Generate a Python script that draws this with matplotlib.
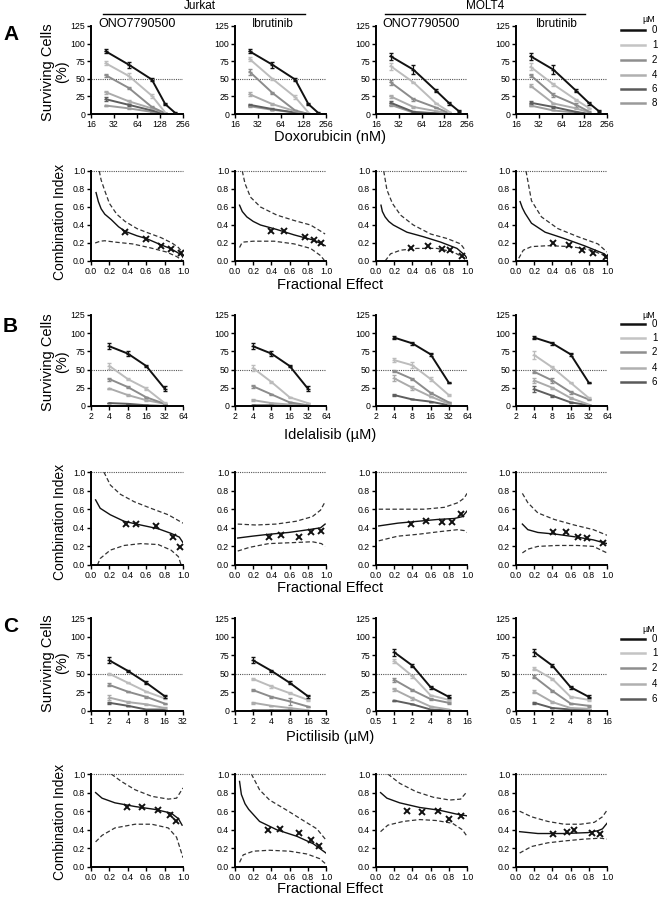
import matplotlib
matplotlib.use("Agg")
import matplotlib.pyplot as plt
from matplotlib.lines import Line2D

plt.rcParams['font.family'] = ['Liberation Sans', 'DejaVu Sans']

# ---------------- data ----------------
legend_A = ['0', '1', '2', '4', '6', '8']
legend_BC = ['0', '1', '2', '4', '6']
series_colors = ['#111111', '#bcbcbc', '#8c8c8c', '#ababab', '#5e5e5e', '#9c9c9c']
legend_colors = ['#111111', '#c4c4c4', '#8e8e8e', '#b0b0b0', '#5a5a5a', '#9a9a9a']

dox_nM = [25, 50, 100, 150, 200]
idel_uM = [4, 8, 16, 32]
pict_jurkat_uM = [2, 4, 8, 16]
pict_molt4_uM = [1, 2, 4, 8]

# Panel A surviving cells (%) per column: Jurkat ONO, Jurkat Ibr, MOLT4 ONO, MOLT4 Ibr
A_jurkat_ono = [[89, 70, 49, 14, 2], [72, 54, 26, 2], [55, 37, 10, 1], [31, 18, 8, 1], [21, 13, 5, 0], [12, 8, 3, 0]]
A_jurkat_ono_err = [[3, 4, 2, 1, 1], [3, 4, 3, 0], [2, 1, 1, 0], [2, 2, 1, 0], [3, 1, 1, 0], [1, 1, 0, 0]]
A_jurkat_ibr = [[89, 70, 49, 14, 2], [78, 50, 24, 2], [60, 30, 5, 0], [28, 14, 4, 0], [13, 7, 2, 0], [11, 6, 2, 0]]
A_jurkat_ibr_err = [[3, 4, 2, 1, 1], [3, 1, 3, 0], [4, 1, 1, 0], [3, 1, 0, 0], [1, 1, 0, 0], [1, 0, 0, 0]]
A_molt4_ono = [[82, 63, 33, 15, 4], [68, 45, 15, 3], [45, 21, 9, 1], [25, 10, 4, 1], [16, 3, 1, 0], [13, 2, 1, 0]]
A_molt4_ono_err = [[5, 6, 2, 2, 1], [5, 1, 1, 0], [4, 2, 1, 0], [2, 1, 0, 0], [3, 1, 0, 0], [2, 0, 0, 0]]
A_molt4_ibr = [[82, 63, 33, 15, 4], [67, 42, 20, 8], [55, 27, 13, 3], [40, 15, 8, 2], [16, 10, 3, 0], [12, 5, 2, 0]]
A_molt4_ibr_err = [[5, 6, 2, 2, 1], [5, 2, 1, 1], [2, 3, 3, 1], [2, 1, 1, 0], [2, 1, 0, 0], [1, 0, 0, 0]]

# Panel B
B_jurkat_ono = [[82, 72, 55, 24], [55, 37, 24, 4], [37, 26, 12, 3], [24, 15, 8, 3], [4, 3, 1, 0]]
B_jurkat_ono_err = [[4, 3, 2, 3], [4, 1, 2, 1], [2, 1, 1, 0], [1, 1, 1, 0], [0, 0, 0, 0]]
B_jurkat_ibr = [[82, 72, 55, 24], [52, 33, 12, 4], [27, 16, 5, 1], [8, 4, 2, 1], [1, 1, 0, 0]]
B_jurkat_ibr_err = [[4, 3, 2, 3], [4, 1, 1, 0], [2, 1, 1, 0], [1, 0, 0, 0], [0, 0, 0, 0]]
B_molt4_ono = [[94, 86, 71, 32], [63, 56, 37, 15], [48, 37, 18, 5], [38, 25, 13, 3], [15, 9, 6, 1]]
B_molt4_ono_err = [[2, 2, 2, 1], [3, 4, 3, 1], [1, 1, 1, 1], [4, 3, 1, 1], [1, 0, 0, 0]]
B_molt4_ibr = [[94, 86, 71, 32], [70, 53, 32, 11], [47, 35, 19, 9], [35, 25, 11, 2], [23, 14, 5, 1]]
B_molt4_ibr_err = [[2, 2, 2, 1], [5, 2, 1, 1], [2, 3, 2, 1], [3, 1, 1, 0], [4, 1, 1, 0]]

# Panel C
C_jurkat_ono = [[68, 54, 38, 20], [50, 38, 26, 17], [35, 26, 19, 10], [18, 12, 9, 4], [11, 7, 2, 2]]
C_jurkat_ono_err = [[4, 1, 2, 2], [1, 1, 1, 1], [2, 1, 1, 1], [3, 1, 1, 1], [1, 0, 0, 0]]
C_jurkat_ibr = [[68, 54, 38, 20], [43, 33, 24, 15], [28, 19, 13, 6], [11, 7, 4, 1], [1, 1, 1, 0]]
C_jurkat_ibr_err = [[4, 1, 2, 2], [2, 2, 1, 1], [1, 1, 5, 1], [1, 0, 0, 0], [0, 0, 0, 0]]
C_molt4_ono = [[79, 61, 32, 19], [67, 47, 21, 15], [42, 28, 16, 11], [29, 17, 6, 2], [14, 9, 2, 1]]
C_molt4_ono_err = [[5, 2, 2, 2], [3, 2, 1, 1], [3, 1, 1, 1], [2, 2, 1, 0], [1, 0, 0, 0]]
C_molt4_ibr = [[79, 61, 32, 19], [57, 43, 19, 15], [46, 27, 10, 7], [26, 12, 4, 3], [11, 4, 2, 1]]
C_molt4_ibr_err = [[5, 2, 2, 2], [2, 2, 1, 1], [2, 1, 1, 1], [2, 1, 0, 0], [1, 0, 0, 0]]

# Combination index: markers (fraction affected, CI) per column
ciA_fa = [[0.37, 0.60, 0.76, 0.87, 0.98], [0.40, 0.54, 0.77, 0.87, 0.95], [0.39, 0.57, 0.72, 0.81, 0.94], [0.41, 0.58, 0.73, 0.85, 0.99]]
ciA_ci = [[0.32, 0.24, 0.17, 0.13, 0.09], [0.33, 0.33, 0.27, 0.23, 0.20], [0.15, 0.17, 0.13, 0.12, 0.06], [0.20, 0.18, 0.12, 0.09, 0.05]]
ciB_fa = [[0.38, 0.49, 0.71, 0.89, 0.97], [0.37, 0.50, 0.70, 0.83, 0.95], [0.39, 0.55, 0.72, 0.83, 0.93], [0.41, 0.55, 0.68, 0.78, 0.96]]
ciB_ci = [[0.44, 0.44, 0.42, 0.30, 0.19], [0.30, 0.32, 0.30, 0.35, 0.37], [0.44, 0.47, 0.46, 0.46, 0.55], [0.35, 0.36, 0.30, 0.29, 0.24]]
ciC_fa = [[0.39, 0.55, 0.73, 0.86, 0.92], [0.36, 0.49, 0.70, 0.84, 0.92], [0.34, 0.50, 0.68, 0.80, 0.93], [0.41, 0.56, 0.64, 0.83, 0.92]]
ciC_ci = [[0.65, 0.65, 0.61, 0.56, 0.49], [0.40, 0.41, 0.37, 0.29, 0.23], [0.60, 0.59, 0.60, 0.52, 0.55], [0.36, 0.38, 0.40, 0.37, 0.36]]

# Fitted CI curves (fa, CI) and 95% CI bounds, per column
ciA_fit = [
    ([0.055, 0.08, 0.11, 0.15, 0.22, 0.3, 0.37, 0.5, 0.6, 0.76, 0.86, 0.93, 0.98, 1.0],
     [0.76, 0.66, 0.58, 0.52, 0.46, 0.38, 0.33, 0.28, 0.25, 0.18, 0.14, 0.10, 0.07, 0.04]),
    ([0.05, 0.08, 0.13, 0.2, 0.28, 0.46, 0.65, 0.87, 0.99],
     [0.62, 0.55, 0.49, 0.44, 0.40, 0.35, 0.29, 0.23, 0.17]),
    ([0.055, 0.07, 0.10, 0.14, 0.19, 0.34, 0.52, 0.71, 0.89, 0.98, 1.0],
     [0.62, 0.55, 0.49, 0.44, 0.40, 0.32, 0.27, 0.21, 0.14, 0.06, 0.03]),
    ([0.045, 0.07, 0.10, 0.17, 0.32, 0.53, 0.75, 0.97, 1.0],
     [0.66, 0.59, 0.53, 0.42, 0.32, 0.25, 0.17, 0.08, 0.05]),
]
ciA_upper = [
    ([0.09, 0.11, 0.15, 0.2, 0.28, 0.37, 0.5, 0.6, 0.76, 0.88, 0.95, 0.99],
     [1.0, 0.9, 0.78, 0.64, 0.52, 0.44, 0.36, 0.32, 0.26, 0.2, 0.15, 0.1]),
    ([0.08, 0.11, 0.17, 0.28, 0.46, 0.65, 0.83, 0.96, 0.99],
     [1.0, 0.86, 0.71, 0.60, 0.51, 0.45, 0.40, 0.32, 0.30]),
    ([0.085, 0.12, 0.18, 0.27, 0.41, 0.6, 0.78, 0.93, 0.98],
     [1.0, 0.79, 0.64, 0.51, 0.40, 0.30, 0.25, 0.19, 0.12]),
    ([0.11, 0.17, 0.28, 0.46, 0.68, 0.9, 1.0],
     [1.0, 0.67, 0.49, 0.36, 0.27, 0.19, 0.10]),
]
ciA_lower = [
    ([0.045, 0.1, 0.15, 0.26, 0.45, 0.63, 0.82, 0.93, 0.99],
     [0.2, 0.22, 0.225, 0.21, 0.19, 0.15, 0.1, 0.05, 0.01]),
    ([0.05, 0.07, 0.09, 0.2, 0.43, 0.65, 0.83, 0.94, 0.98],
     [0.15, 0.19, 0.21, 0.22, 0.22, 0.19, 0.14, 0.06, 0.01]),
    ([0.1, 0.16, 0.27, 0.45, 0.67, 0.85, 0.96, 0.99],
     [0.0, 0.08, 0.12, 0.14, 0.14, 0.10, 0.04, 0.01]),
    ([0.03, 0.08, 0.17, 0.35, 0.61, 0.83, 0.95, 1.0],
     [0.03, 0.12, 0.16, 0.17, 0.16, 0.12, 0.07, 0.04]),
]
ciB_fit = [
    ([0.05, 0.1, 0.21, 0.36, 0.54, 0.73, 0.87, 0.96, 1.0],
     [0.70, 0.61, 0.54, 0.47, 0.43, 0.39, 0.34, 0.30, 0.24]),
    ([0.03, 0.19, 0.37, 0.59, 0.81, 0.94, 0.99],
     [0.29, 0.31, 0.33, 0.35, 0.38, 0.40, 0.44]),
    ([0.03, 0.24, 0.46, 0.68, 0.86, 0.95, 1.0],
     [0.42, 0.45, 0.47, 0.49, 0.50, 0.52, 0.58]),
    ([0.07, 0.13, 0.24, 0.45, 0.67, 0.85, 1.0],
     [0.44, 0.38, 0.35, 0.33, 0.30, 0.27, 0.23]),
]
ciB_upper = [
    ([0.14, 0.21, 0.32, 0.47, 0.65, 0.84, 1.0],
     [1.0, 0.86, 0.76, 0.68, 0.61, 0.54, 0.45]),
    ([0.03, 0.23, 0.45, 0.67, 0.85, 0.94, 0.99],
     [0.44, 0.43, 0.44, 0.47, 0.52, 0.59, 0.68]),
    ([0.03, 0.24, 0.53, 0.75, 0.9, 0.97, 1.0],
     [0.60, 0.60, 0.60, 0.62, 0.67, 0.72, 0.77]),
    ([0.07, 0.13, 0.24, 0.42, 0.64, 0.85, 1.0],
     [0.77, 0.67, 0.56, 0.49, 0.43, 0.38, 0.32]),
]
ciB_lower = [
    ([0.07, 0.1, 0.21, 0.36, 0.54, 0.73, 0.87, 0.95, 0.98],
     [0.0, 0.07, 0.16, 0.21, 0.23, 0.22, 0.16, 0.09, 0.0]),
    ([0.03, 0.16, 0.37, 0.62, 0.85, 0.95, 0.99],
     [0.15, 0.19, 0.23, 0.24, 0.25, 0.23, 0.20]),
    ([0.03, 0.24, 0.46, 0.71, 0.9, 0.97, 1.0],
     [0.26, 0.31, 0.33, 0.36, 0.38, 0.37, 0.35]),
    ([0.07, 0.13, 0.24, 0.45, 0.67, 0.85, 1.0],
     [0.13, 0.17, 0.20, 0.21, 0.21, 0.20, 0.13]),
]
ciC_fit = [
    ([0.05, 0.12, 0.26, 0.48, 0.69, 0.87, 0.95, 0.99],
     [0.80, 0.74, 0.69, 0.65, 0.62, 0.58, 0.52, 0.45]),
    ([0.05, 0.07, 0.11, 0.15, 0.27, 0.46, 0.68, 0.86, 1.0],
     [0.92, 0.78, 0.68, 0.62, 0.49, 0.40, 0.33, 0.25, 0.15]),
    ([0.05, 0.12, 0.26, 0.48, 0.7, 0.88, 1.0],
     [0.80, 0.74, 0.69, 0.64, 0.61, 0.57, 0.55]),
    ([0.04, 0.24, 0.53, 0.79, 0.9, 0.95, 1.0],
     [0.38, 0.36, 0.36, 0.37, 0.39, 0.41, 0.47]),
]
ciC_upper = [
    ([0.22, 0.33, 0.48, 0.66, 0.84, 0.93, 1.0],
     [1.0, 0.92, 0.83, 0.76, 0.73, 0.74, 0.85]),
    ([0.18, 0.27, 0.38, 0.57, 0.75, 0.9, 1.0],
     [1.0, 0.83, 0.72, 0.61, 0.50, 0.41, 0.29]),
    ([0.13, 0.26, 0.44, 0.63, 0.81, 0.93, 1.0],
     [1.0, 0.90, 0.81, 0.75, 0.72, 0.73, 0.81]),
    ([0.04, 0.17, 0.35, 0.53, 0.71, 0.86, 0.95, 1.0],
     [0.60, 0.54, 0.49, 0.46, 0.46, 0.48, 0.54, 0.61]),
]
ciC_lower = [
    ([0.05, 0.12, 0.26, 0.48, 0.66, 0.84, 0.93, 1.0],
     [0.27, 0.34, 0.42, 0.46, 0.46, 0.42, 0.32, 0.10]),
    ([0.05, 0.09, 0.2, 0.38, 0.6, 0.79, 0.93, 1.0],
     [0.05, 0.13, 0.17, 0.18, 0.17, 0.14, 0.09, 0.03]),
    ([0.05, 0.13, 0.3, 0.48, 0.66, 0.84, 0.95, 1.0],
     [0.38, 0.45, 0.49, 0.51, 0.50, 0.47, 0.40, 0.33]),
    ([0.04, 0.17, 0.35, 0.53, 0.75, 0.93, 1.0],
     [0.15, 0.22, 0.26, 0.28, 0.30, 0.31, 0.30]),
]

# ---------------- layout ----------------
W, H = 660, 898
fig = plt.figure(figsize=(W / 100, H / 100), dpi=100)

col_x = [(91, 183), (235, 326), (376, 467), (516, 607)]
rows = {
    'A_top': (26, 114), 'A_ci': (171, 261),
    'B_top': (315, 406), 'B_ci': (472, 565),
    'C_top': (618, 711), 'C_ci': (774, 867),
}


def add_ax(col, row):
    l, r = col_x[col]
    t, b = rows[row]
    return fig.add_axes([l / W, 1 - b / H, (r - l) / W, (b - t) / H])


def style(ax):
    for s in ['top', 'right']:
        ax.spines[s].set_visible(False)
    for s in ['left', 'bottom']:
        ax.spines[s].set_linewidth(1.4)
    ax.tick_params(direction='out', length=3, width=1.0, labelsize=6.3, pad=1.2)
    ax.minorticks_off()


def top_plot(ax, xvals, data, err, xticks, xticklabels):
    ax.set_xscale('log', base=2)
    for i in range(len(data) - 1, -1, -1):
        y = data[i]
        x = xvals[:len(y)]
        ax.errorbar(x, y, yerr=err[i], color=series_colors[i], lw=1.4,
                    elinewidth=0.9, capsize=1.6, capthick=0.9,
                    marker='_', ms=3, mew=1.0, zorder=3 if i == 0 else 2)
    ax.axhline(50, ls=(0, (1, 1)), color='#555555', lw=0.8, zorder=1)
    ax.set_xlim(xticks[0], xticks[-1])
    ax.set_ylim(0, 125)
    ax.set_yticks([0, 25, 50, 75, 100, 125])
    ax.set_xticks(xticks)
    ax.set_xticklabels(xticklabels)
    style(ax)


def ci_plot(ax, fa, ci, fit, upper, lower):
    ax.plot(fit[0], fit[1], color='#111111', lw=1.0)
    ax.plot(upper[0], upper[1], color='#333333', lw=0.9, ls=(0, (3.5, 2)))
    ax.plot(lower[0], lower[1], color='#333333', lw=0.9, ls=(0, (3.5, 2)))
    ax.plot(fa, ci, ls='none', marker='x', ms=4.5, mew=1.4, color='#111111', zorder=4)
    ax.axhline(1.0, ls=(0, (1, 1)), color='#555555', lw=0.8, clip_on=False)
    ax.set_xlim(0, 1)
    ax.set_ylim(0, 1)
    ticks = [0.0, 0.2, 0.4, 0.6, 0.8, 1.0]
    ax.set_xticks(ticks)
    ax.set_yticks(ticks)
    ax.set_xticklabels([f"{t:.1f}" for t in ticks])
    ax.set_yticklabels([f"{t:.1f}" for t in ticks])
    style(ax)


# Panel A
A_data = [(A_jurkat_ono, A_jurkat_ono_err), (A_jurkat_ibr, A_jurkat_ibr_err),
          (A_molt4_ono, A_molt4_ono_err), (A_molt4_ibr, A_molt4_ibr_err)]
for c, (d, e) in enumerate(A_data):
    ax = add_ax(c, 'A_top')
    top_plot(ax, dox_nM, d, e, [16, 32, 64, 128, 256], ['16', '32', '64', '128', '256'])
for c in range(4):
    ax = add_ax(c, 'A_ci')
    ci_plot(ax, ciA_fa[c], ciA_ci[c], ciA_fit[c], ciA_upper[c], ciA_lower[c])

# Panel B
B_data = [(B_jurkat_ono, B_jurkat_ono_err), (B_jurkat_ibr, B_jurkat_ibr_err),
          (B_molt4_ono, B_molt4_ono_err), (B_molt4_ibr, B_molt4_ibr_err)]
for c, (d, e) in enumerate(B_data):
    ax = add_ax(c, 'B_top')
    top_plot(ax, idel_uM, d, e, [2, 4, 8, 16, 32, 64], ['2', '4', '8', '16', '32', '64'])
for c in range(4):
    ax = add_ax(c, 'B_ci')
    ci_plot(ax, ciB_fa[c], ciB_ci[c], ciB_fit[c], ciB_upper[c], ciB_lower[c])

# Panel C
C_data = [(C_jurkat_ono, C_jurkat_ono_err), (C_jurkat_ibr, C_jurkat_ibr_err),
          (C_molt4_ono, C_molt4_ono_err), (C_molt4_ibr, C_molt4_ibr_err)]
for c, (d, e) in enumerate(C_data):
    ax = add_ax(c, 'C_top')
    if c < 2:
        top_plot(ax, pict_jurkat_uM, d, e, [1, 2, 4, 8, 16, 32], ['1', '2', '4', '8', '16', '32'])
    else:
        top_plot(ax, pict_molt4_uM, d, e, [0.5, 1, 2, 4, 8, 16], ['0.5', '1', '2', '4', '8', '16'])
for c in range(4):
    ax = add_ax(c, 'C_ci')
    ci_plot(ax, ciC_fa[c], ciC_ci[c], ciC_fit[c], ciC_upper[c], ciC_lower[c])


# ---------------- text ----------------
def ftext(x, y, s, **kw):
    fig.text(x / W, 1 - y / H, s, **kw)


# panel letters
for letter, y in [('A', 35), ('B', 326), ('C', 626)]:
    ftext(3, y, letter, fontsize=15, fontweight='bold', ha='left', va='center')

# headers
ftext(200, 6, 'Jurkat', fontsize=8.5, ha='center', va='center')
ftext(485, 6, 'MOLT4', fontsize=8.5, ha='center', va='center')
fig.add_artist(Line2D([103 / W, 305 / W], [1 - 14 / H, 1 - 14 / H], color='black', lw=1.0))
fig.add_artist(Line2D([385 / W, 585 / W], [1 - 14 / H, 1 - 14 / H], color='black', lw=1.0))
ftext(137, 24, 'ONO7790500', fontsize=9, ha='center', va='center')
ftext(273, 24, 'Ibrutinib', fontsize=8.5, ha='center', va='center')
ftext(421, 24, 'ONO7790500', fontsize=9, ha='center', va='center')
ftext(557, 24, 'Ibrutinib', fontsize=8.5, ha='center', va='center')

# y labels
for yc in [72, 362, 663]:
    ftext(55, yc, 'Surviving Cells\n(%)', fontsize=10.5, rotation=90, ha='center', va='center',
          linespacing=1.0, multialignment='center')
for yc in [222, 522, 822]:
    ftext(60, yc, 'Combination Index', fontsize=10, rotation=90, ha='center', va='center')

# x labels
ftext(330, 137, 'Doxorubicin (nM)', fontsize=10.5, ha='center', va='center')
ftext(330, 435, 'Idelalisib (µM)', fontsize=10.5, ha='center', va='center')
ftext(330, 737, 'Pictilisib (µM)', fontsize=10.5, ha='center', va='center')
for yc in [285, 588, 889]:
    ftext(330, yc, 'Fractional Effect', fontsize=10.5, ha='center', va='center')


# legends
def legend_block(y_title, ys, labels):
    ftext(649, y_title, 'µM', fontsize=6.5, ha='center', va='center')
    for i, (yy, lab) in enumerate(zip(ys, labels)):
        fig.add_artist(Line2D([621 / W, 645 / W], [1 - yy / H, 1 - yy / H],
                              color=legend_colors[i], lw=1.8))
        ftext(652, yy, lab, fontsize=7, ha='left', va='center')


legend_block(19, [30, 45, 60, 75, 89, 103], legend_A)
legend_block(315, [324, 338, 352, 368, 382], legend_BC)
legend_block(629, [639, 653, 668, 684, 699], legend_BC)

fig.savefig('out.png', dpi=100)
